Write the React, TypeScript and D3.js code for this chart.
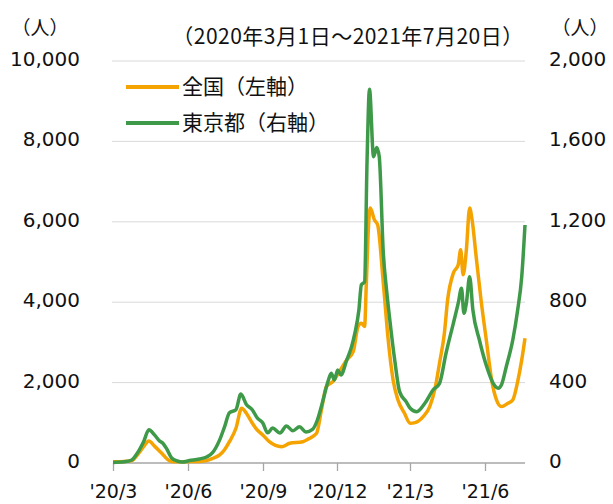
import React from "react";
import * as d3 from "d3";

// 全国 (left axis), 7-day average daily cases
const nationalDates = [
  "2020-03-01","2020-03-15","2020-03-24","2020-03-31","2020-04-08","2020-04-14","2020-04-21","2020-04-29",
  "2020-05-10","2020-05-19","2020-06-03","2020-06-15","2020-06-24","2020-07-01","2020-07-10","2020-07-16",
  "2020-07-22","2020-07-30","2020-08-06","2020-08-12","2020-08-18","2020-08-24","2020-09-01","2020-09-09",
  "2020-09-24","2020-10-04","2020-10-20","2020-10-27","2020-11-06","2020-11-12","2020-11-18","2020-11-26",
  "2020-12-04","2020-12-13","2020-12-21","2020-12-27","2020-12-31","2021-01-04","2021-01-06","2021-01-09",
  "2021-01-11","2021-01-16","2021-01-20","2021-01-27","2021-02-02","2021-02-08","2021-02-14","2021-02-22",
  "2021-03-01","2021-03-07","2021-03-17","2021-03-25","2021-04-01","2021-04-06","2021-04-12","2021-04-16",
  "2021-04-23","2021-04-29","2021-05-02","2021-05-05","2021-05-09","2021-05-13","2021-05-16","2021-05-21",
  "2021-05-27","2021-06-03","2021-06-09","2021-06-15","2021-06-21","2021-06-29","2021-07-05","2021-07-11",
  "2021-07-16","2021-07-20"
];
const nationalValues = [
  30, 40, 60, 200, 420, 548, 420, 260,
  50, 30, 35, 40, 60, 110, 200, 330,
  530, 864, 1362, 1230, 1028, 850, 697, 530,
  406, 490, 530, 600, 740, 1320, 1900, 2025,
  2275, 2565, 2772, 3394, 3478, 3394, 4390, 5968,
  6342, 6050, 5926, 4475, 3063, 2067, 1569, 1237,
  988, 1004, 1154, 1403, 1900, 2483, 3229, 4059,
  4723, 4930, 5304, 4681, 5304, 6342, 6050, 5137,
  4059, 2980, 2067, 1569, 1403, 1486, 1569, 2025,
  2565, 3104
];

// 東京都 (right axis)
const tokyoDates = [
  "2020-03-01","2020-03-15","2020-03-24","2020-03-31","2020-04-08","2020-04-14","2020-04-21","2020-04-27",
  "2020-05-01","2020-05-06","2020-05-12","2020-05-19","2020-05-25","2020-06-03","2020-06-15","2020-06-24",
  "2020-07-01","2020-07-10","2020-07-16","2020-07-22","2020-07-30","2020-08-05","2020-08-12","2020-08-19",
  "2020-08-25","2020-09-01","2020-09-07","2020-09-13","2020-09-22","2020-09-30","2020-10-08","2020-10-16",
  "2020-10-24","2020-11-01","2020-11-07","2020-11-13","2020-11-20","2020-11-24","2020-11-28","2020-12-02",
  "2020-12-06","2020-12-13","2020-12-19","2020-12-23","2020-12-28","2020-12-31","2021-01-04","2021-01-07",
  "2021-01-10","2021-01-15","2021-01-19","2021-01-22","2021-01-27","2021-01-31","2021-02-04","2021-02-10",
  "2021-02-16","2021-02-24","2021-03-01","2021-03-09","2021-03-19","2021-03-29","2021-04-06","2021-04-14",
  "2021-04-23","2021-04-29","2021-05-03","2021-05-06","2021-05-09","2021-05-13","2021-05-17","2021-05-25",
  "2021-06-03","2021-06-11","2021-06-17","2021-06-21","2021-06-27","2021-07-05","2021-07-11","2021-07-16",
  "2021-07-20"
];
const tokyoValues = [
  3, 6, 15, 50, 110, 165, 140, 110,
  100, 70, 25, 10, 5, 12, 20, 30,
  50, 115, 180, 250, 265, 343, 290, 265,
  225, 199, 150, 174, 149, 184, 160, 180,
  154, 167, 214, 298, 405, 446, 413, 463,
  438, 512, 579, 645, 761, 886, 902, 1500,
  1859, 1524, 1570, 1524, 1043, 860, 711, 512,
  355, 305, 272, 255, 297, 363, 396, 546,
  695, 795, 869, 745, 795, 927, 761, 612,
  479, 396, 372, 388, 479, 612, 761, 927,
  1184
];

const leftTicks = [0, 2000, 4000, 6000, 8000, 10000];
const rightTicks = [0, 400, 800, 1200, 1600, 2000];
const xTickDates = ["2020-03-01", "2020-06-01", "2020-09-01", "2020-12-01", "2021-03-01", "2021-06-01"];
const xTickLabels = ["'20/3", "'20/6", "'20/9", "'20/12", "'21/3", "'21/6"];

const title = "（2020年3月1日～2021年7月20日）";
const legendLabels = ["全国（左軸）", "東京都（右軸）"];
const unitLabel = "（人）";

const ORANGE = "#F5A300";
const GREEN = "#3E9A48";

export default function App() {
  const W = 613, H = 504;
  const x0 = 113, x1 = 525, yTop = 61, yBot = 463;
  const parse = d3.timeParse("%Y-%m-%d");
  const x = d3.scaleTime()
    .domain([parse("2020-03-01")!, parse("2021-07-20")!])
    .range([x0, x1]);
  const yL = d3.scaleLinear().domain([0, 10000]).range([yBot, yTop]);
  const yR = d3.scaleLinear().domain([0, 2000]).range([yBot, yTop]);

  const nat = nationalDates.map((d, i) => ({ d: parse(d)!, v: nationalValues[i] }));
  const tok = tokyoDates.map((d, i) => ({ d: parse(d)!, v: tokyoValues[i] }));

  const lineL = d3.line<{ d: Date; v: number }>()
    .x(p => x(p.d)).y(p => yL(p.v)).curve(d3.curveMonotoneX);
  const lineR = d3.line<{ d: Date; v: number }>()
    .x(p => x(p.d)).y(p => yR(p.v)).curve(d3.curveMonotoneX);

  const fmt = d3.format(",");
  const latin = "'DejaVu Sans', Verdana, sans-serif";
  const cjk = "'Noto Sans CJK JP', sans-serif";

  return (
    <svg width={W} height={H} style={{ position: "absolute", left: 0, top: 0, background: "#fff" }}>
      {leftTicks.slice(1).map(t => (
        <line key={"g" + t} x1={x0 - 1} x2={x1} y1={yL(t)} y2={yL(t)} stroke="#d9d9d9" strokeWidth={1} />
      ))}
      <line x1={x0} x2={x1} y1={yBot} y2={yBot} stroke="#a6a6a6" strokeWidth={1.3} />
      {xTickDates.map((d, i) => {
        const xx = Math.round(x(parse(d)!)) + 0.5;
        return (
          <g key={"xt" + i}>
            <line x1={xx} x2={xx} y1={yBot} y2={yBot + 8} stroke="#a6a6a6" strokeWidth={1.3} />
            <text x={xx} y={498} textAnchor="middle" fontFamily={latin} fontSize={19} fill="#111">
              {xTickLabels[i]}
            </text>
          </g>
        );
      })}
      {leftTicks.map(t => (
        <text key={"lt" + t} x={80} y={yL(t) + 5} textAnchor="end" fontFamily={latin} fontSize={20} fill="#111">
          {fmt(t)}
        </text>
      ))}
      {rightTicks.map(t => (
        <text key={"rt" + t} x={549} y={yR(t) + 5} textAnchor="start" fontFamily={latin} fontSize={20} fill="#111">
          {fmt(t)}
        </text>
      ))}
      <text x={40} y={35} textAnchor="middle" fontFamily={cjk} fontSize={19} fill="#111">{unitLabel}</text>
      <text x={580} y={35} textAnchor="middle" fontFamily={cjk} fontSize={19} fill="#111">{unitLabel}</text>
      <text x={348} y={44} textAnchor="middle" fontFamily={cjk} fontSize={21} letterSpacing={0.5} fill="#111">{title}</text>

      <path d={lineL(nat) || ""} fill="none" stroke={ORANGE} strokeWidth={3.5} strokeLinejoin="round" />
      <path d={lineR(tok) || ""} fill="none" stroke={GREEN} strokeWidth={3.5} strokeLinejoin="round" />

      {[ORANGE, GREEN].map((c, i) => {
        const ly = 87 + i * 36;
        return (
          <g key={"lg" + i}>
            <line x1={126} x2={179} y1={ly} y2={ly} stroke={c} strokeWidth={4} />
            <text x={182} y={ly + 7} fontFamily={cjk} fontSize={21} fill="#111">{legendLabels[i]}</text>
          </g>
        );
      })}
    </svg>
  );
}
